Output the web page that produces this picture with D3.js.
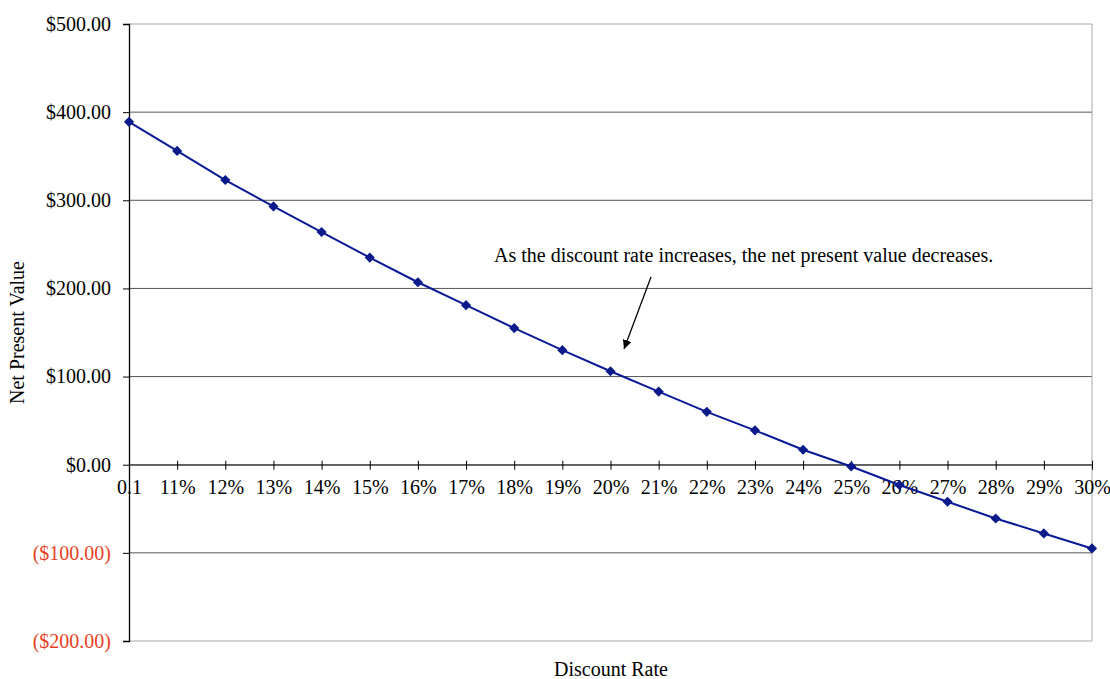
<!DOCTYPE html>
<html>
<head>
<meta charset="utf-8">
<script src="https://cdn.jsdelivr.net/npm/d3@7"></script>
<style>
  body { margin: 0; background: #fff; }
  text { font-family: "Liberation Serif", "Times New Roman", serif; }
</style>
</head>
<body>
<div class="chart"></div>
<script>
// discount rates (category labels as shown on the axis)
const rates = ["0.1", "11%", "12%", "13%", "14%", "15%", "16%", "17%", "18%", "19%", "20%",
  "21%", "22%", "23%", "24%", "25%", "26%", "27%", "28%", "29%", "30%"];
// net present value at each rate
const npv = [389, 356, 323, 293, 264, 235, 207, 181, 155, 130, 106,
  83, 60, 39, 17, -2, -23, -42, -61, -78, -95];
const yTicks = [500, 400, 300, 200, 100, 0, -100, -200];
const note = "As the discount rate increases, the net present value decreases.";

const width = 1110, height = 679;
const margin = { top: 24, right: 18, bottom: 38, left: 129 };
const fontSize = "20px";

const svg = d3.select(".chart").append("svg")
  .attr("width", width)
  .attr("height", height);

const x = d3.scalePoint()
  .domain(rates)
  .range([margin.left, width - margin.right]);

const y = d3.scaleLinear()
  .domain([-200, 500])
  .range([height - margin.bottom, margin.top]);

const fmt = v => v < 0 ? "($" + Math.abs(v).toFixed(2) + ")" : "$" + v.toFixed(2);

// horizontal gridlines
svg.append("g")
  .selectAll("line")
  .data(yTicks)
  .join("line")
  .attr("x1", margin.left)
  .attr("x2", width - margin.right)
  .attr("y1", d => y(d))
  .attr("y2", d => y(d))
  .attr("stroke", d => (d === 500 || d === -200) ? "#a8a8a8" : "#555")
  .attr("stroke-width", 1);

// right border
svg.append("line")
  .attr("x1", width - margin.right)
  .attr("x2", width - margin.right)
  .attr("y1", y(500))
  .attr("y2", y(-200))
  .attr("stroke", "#a8a8a8");

// y axis
const yAxis = svg.append("g")
  .attr("transform", "translate(" + margin.left + ",0)")
  .call(d3.axisLeft(y).tickValues(yTicks).tickFormat(fmt).tickSize(6).tickPadding(12));
yAxis.select(".domain").attr("stroke", "#000").attr("stroke-width", 1.3);
yAxis.selectAll(".tick line").attr("stroke", "#000");
yAxis.selectAll(".tick text")
  .style("font-family", "Liberation Serif")
  .style("font-size", fontSize)
  .attr("fill", d => d < 0 ? "#e8401c" : "#000");

// x axis along zero
const xAxis = svg.append("g")
  .attr("transform", "translate(0," + y(0) + ")")
  .call(d3.axisBottom(x).tickSizeInner(5).tickSizeOuter(0).tickPadding(10));
xAxis.select(".domain").attr("stroke", "#444").attr("stroke-width", 1.3);
xAxis.selectAll(".tick line").attr("stroke", "#000").attr("y1", -4);
xAxis.selectAll(".tick text")
  .style("font-family", "Liberation Serif")
  .style("font-size", fontSize)
  .attr("fill", "#000");

// series line
const line = d3.line()
  .x((d, i) => x(rates[i]))
  .y(d => y(d));

svg.append("path")
  .datum(npv)
  .attr("fill", "none")
  .attr("stroke", "#0a1a96")
  .attr("stroke-width", 2)
  .attr("d", line);

// diamond markers
svg.append("g")
  .selectAll("path")
  .data(npv)
  .join("path")
  .attr("transform", (d, i) => "translate(" + x(rates[i]) + "," + y(d) + ") rotate(45)")
  .attr("d", "M-3.6,-3.6H3.6V3.6H-3.6Z")
  .attr("fill", "#0a1a8a");

// annotation
svg.append("text")
  .attr("x", 494)
  .attr("y", 262)
  .style("font-size", fontSize)
  .text(note);

svg.append("defs").append("marker")
  .attr("id", "arrow")
  .attr("viewBox", "0 0 10 10")
  .attr("refX", 10)
  .attr("refY", 5)
  .attr("markerWidth", 9)
  .attr("markerHeight", 9)
  .attr("markerUnits", "userSpaceOnUse")
  .attr("orient", "auto")
  .append("path")
  .attr("d", "M0,0L10,5L0,10Z")
  .attr("fill", "#000");

svg.append("line")
  .attr("x1", 651)
  .attr("y1", 277)
  .attr("x2", 624)
  .attr("y2", 349)
  .attr("stroke", "#000")
  .attr("stroke-width", 1.3)
  .attr("marker-end", "url(#arrow)");

// axis titles
svg.append("text")
  .attr("transform", "translate(24," + ((y(500) + y(-200)) / 2) + ") rotate(-90)")
  .attr("text-anchor", "middle")
  .style("font-size", fontSize)
  .text("Net Present Value");

svg.append("text")
  .attr("x", 611)
  .attr("y", 676)
  .attr("text-anchor", "middle")
  .style("font-size", fontSize)
  .text("Discount Rate");
</script>
</body>
</html>
